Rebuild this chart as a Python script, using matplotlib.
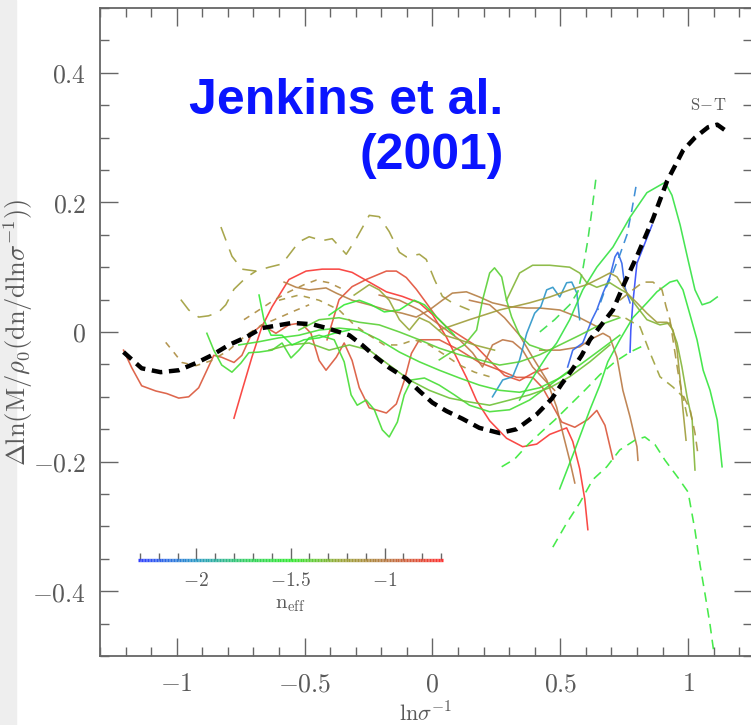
import matplotlib
matplotlib.use("Agg")
import matplotlib.pyplot as plt
import numpy as np
from matplotlib.colors import LinearSegmentedColormap, Normalize
from matplotlib.collections import LineCollection
from matplotlib.patches import Rectangle
from matplotlib.ticker import MultipleLocator, FuncFormatter

plt.rcParams['mathtext.fontset'] = 'cm'

# Sheth-Tormen residual
st_x = [-1.208, -1.137, -1.063, -0.992, -0.925, -0.863, -0.796, -0.729, -0.667, -0.549,
        -0.471, -0.412, -0.325, -0.275, -0.220, -0.169, -0.102, -0.051, 0.0, 0.055,
        0.118, 0.184, 0.263, 0.329, 0.408, 0.467, 0.506, 0.545, 0.584, 0.616,
        0.655, 0.706, 0.753, 0.800, 0.863, 0.918, 0.980, 1.027, 1.078, 1.114, 1.153]
st_y = [-0.031, -0.056, -0.062, -0.059, -0.048, -0.036, -0.020, -0.008, 0.006, 0.014,
        0.012, 0.006, -0.005, -0.020, -0.039, -0.055, -0.072, -0.091, -0.109, -0.122,
        -0.134, -0.148, -0.156, -0.150, -0.127, -0.103, -0.080, -0.059, -0.036, -0.012,
        0.008, 0.034, 0.077, 0.117, 0.175, 0.233, 0.280, 0.300, 0.316, 0.320, 0.309]

# simulation residuals (x, y), one pair per run
salmon_a_x = [-1.208, -1.176, -1.137, -1.082, -1.039, -0.992, -0.953, -0.914, -0.882, -0.855,
              -0.824, -0.776, -0.745, -0.706, -0.667, -0.612, -0.561, -0.514, -0.475, -0.443,
              -0.416, -0.376, -0.345, -0.314, -0.286, -0.247, -0.180, -0.141, -0.110, -0.082,
              -0.051, 0.027, 0.106, 0.184, 0.263, 0.329, 0.392, 0.431, 0.506, 0.557,
              0.608, 0.643, 0.675, 0.706]
salmon_a_y = [-0.028, -0.055, -0.083, -0.091, -0.095, -0.102, -0.100, -0.086, -0.059, -0.036,
              -0.039, -0.047, -0.036, -0.002, 0.011, -0.002, 0.011, 0.014, -0.002, -0.044,
              -0.059, -0.039, -0.017, -0.044, -0.086, -0.117, -0.125, -0.111, -0.075, -0.033,
              -0.012, -0.012, -0.028, -0.047, -0.059, -0.070, -0.070, -0.086, -0.139, -0.147,
              -0.135, -0.121, -0.144, -0.196]
red_x = [-0.776, -0.745, -0.706, -0.667, -0.627, -0.561, -0.494, -0.431, -0.365, -0.314,
         -0.247, -0.180, -0.118, -0.051, 0.0, 0.055, 0.094, 0.133, 0.173, 0.224,
         0.290, 0.353, 0.408, 0.459, 0.525, 0.549, 0.576, 0.596, 0.608]
red_y = [-0.133, -0.091, -0.039, 0.008, 0.039, 0.081, 0.094, 0.097, 0.097, 0.092,
         0.077, 0.062, 0.055, 0.045, 0.027, -0.008, -0.039, -0.070, -0.106, -0.137,
         -0.164, -0.177, -0.173, -0.158, -0.148, -0.169, -0.211, -0.258, -0.305]
salmon_b_x = [-0.412, -0.365, -0.314, -0.259, -0.180, -0.141, -0.102, -0.063, -0.024, 0.016,
              0.055, 0.106, 0.165, 0.224, 0.282, 0.341, 0.400, 0.451]
salmon_b_y = [-0.012, 0.050, 0.070, 0.081, 0.094, 0.094, 0.084, 0.066, 0.045, 0.023,
              0.008, -0.005, -0.020, -0.044, -0.067, -0.075, -0.062, -0.056]
olive_a_x = [-0.827, -0.784, -0.745, -0.690, -0.639, -0.588, -0.553, -0.522, -0.482, -0.431,
             -0.392, -0.337, -0.298, -0.247, -0.208, -0.169, -0.129, -0.102, -0.051, -0.024,
             0.008, 0.039, 0.078, 0.145]
olive_a_y = [0.162, 0.117, 0.097, 0.094, 0.100, 0.105, 0.123, 0.139, 0.147, 0.141,
             0.144, 0.120, 0.144, 0.180, 0.178, 0.155, 0.123, 0.116, 0.120, 0.112,
             0.081, 0.055, 0.045, 0.034]
olive_b_x = [-0.984, -0.953, -0.914, -0.875, -0.835, -0.808, -0.776, -0.729, -0.690]
olive_b_y = [0.050, 0.034, 0.023, 0.025, 0.031, 0.042, 0.066, 0.084, 0.094]
olive_c_x = [-1.043, -1.012, -0.980, -0.925, -0.863, -0.796, -0.729, -0.667, -0.600, -0.549, -0.482]
olive_c_y = [-0.016, -0.031, -0.047, -0.052, -0.044, -0.028, -0.005, 0.011, 0.022, 0.031, 0.042]
green_a_x = [-0.882, -0.855, -0.824, -0.784, -0.749, -0.718, -0.678, -0.627, -0.588, -0.553,
             -0.522, -0.482, -0.443, -0.384, -0.345, -0.318, -0.294, -0.259, -0.227, -0.196,
             -0.169, -0.137, -0.110, -0.082, -0.031, 0.027, 0.086, 0.145, 0.224, 0.302,
             0.380, 0.459, 0.537]
green_a_y = [-0.002, -0.028, -0.051, -0.062, -0.048, -0.032, -0.031, -0.028, -0.017, -0.040,
             -0.028, -0.009, -0.005, -0.012, -0.046, -0.097, -0.113, -0.105, -0.120, -0.151,
             -0.162, -0.139, -0.097, -0.074, -0.071, -0.082, -0.097, -0.113, -0.123, -0.120,
             -0.105, -0.082, -0.059]
brown_a_x = [-0.580, -0.533, -0.482, -0.416, -0.376, -0.314, -0.247, -0.180, -0.118, -0.063,
             -0.012, 0.039, 0.078, 0.133, 0.184, 0.235, 0.302, 0.369, 0.420, 0.498,
             0.576, 0.655]
brown_a_y = [0.077, 0.069, 0.065, 0.068, 0.060, 0.049, 0.042, 0.034, 0.029, 0.023,
             0.034, 0.049, 0.060, 0.062, 0.054, 0.045, 0.039, 0.037, 0.037, 0.034,
             0.022, 0.006]
brown_b_x = [0.145, 0.224, 0.282, 0.341, 0.392, 0.447, 0.486, 0.510, 0.537, 0.557]
brown_b_y = [0.049, 0.042, 0.022, -0.005, -0.039, -0.074, -0.116, -0.156, -0.198, -0.233]
brown_c_x = [0.420, 0.498, 0.576, 0.616, 0.667, 0.694, 0.722, 0.745, 0.773, 0.800, 0.804]
brown_c_y = [-0.028, -0.028, -0.023, -0.012, -0.002, -0.008, -0.039, -0.090, -0.131, -0.177, -0.198]
brown_d_x = [-0.208, -0.129, -0.051, 0.000, 0.055, 0.106, 0.157, 0.196, 0.235, 0.275,
             0.314, 0.353, 0.392, 0.439, 0.478]
brown_d_y = [0.057, 0.049, 0.034, 0.019, 0.003, -0.012, -0.032, -0.054, -0.020, -0.012,
             -0.015, -0.028, -0.054, -0.074, -0.090]
teal_x = [0.235, 0.275, 0.314, 0.341, 0.369, 0.400, 0.424, 0.447, 0.471, 0.498,
          0.525, 0.545, 0.565, 0.576]
teal_y = [-0.100, -0.074, -0.069, -0.043, -0.002, 0.029, 0.039, 0.065, 0.069, 0.054,
          0.076, 0.077, 0.060, 0.019]
blue_a_x = [0.529, 0.549, 0.588, 0.624, 0.643, 0.667, 0.694, 0.714, 0.725, 0.741, 0.753, 0.773]
blue_a_y = [-0.054, -0.028, -0.017, 0.019, 0.034, 0.060, 0.085, 0.116, 0.123, 0.106, 0.069, 0.045]
blue_b_x = [0.773, 0.776, 0.784, 0.800, 0.831, 0.859]
blue_b_y = [-0.031, 0.003, 0.045, 0.106, 0.137, 0.165]
teal_d_x = [0.796, 0.780, 0.761, 0.733, 0.702, 0.675, 0.647]
teal_d_y = [0.224, 0.188, 0.150, 0.119, 0.088, 0.065, 0.034]
lime_d_x = [0.639, 0.624, 0.608, 0.588, 0.569, 0.537, 0.478, 0.420]
lime_d_y = [0.235, 0.188, 0.142, 0.096, 0.062, 0.042, 0.019, 0.000]
lime_a_x = [0.341, 0.400, 0.451, 0.486, 0.537, 0.588, 0.643, 0.706, 0.773, 0.839,
            0.910, 0.937, 0.969, 1.000, 1.027, 1.055, 1.086, 1.114]
lime_a_y = [-0.105, -0.066, -0.035, -0.017, 0.019, 0.065, 0.100, 0.131, 0.177, 0.215,
            0.231, 0.211, 0.165, 0.111, 0.065, 0.042, 0.046, 0.054]
lime_b_x = [0.498, 0.557, 0.616, 0.655, 0.686, 0.733, 0.784, 0.839, 0.878, 0.929,
            0.957, 0.980, 1.008, 1.035, 1.059, 1.086, 1.114, 1.133]
lime_b_y = [-0.242, -0.182, -0.120, -0.082, -0.046, -0.012, 0.022, 0.045, 0.062, 0.077,
            0.080, 0.065, 0.026, -0.012, -0.059, -0.090, -0.136, -0.208]
green_d1_x = [0.471, 0.525, 0.576, 0.627, 0.682, 0.733, 0.792, 0.831, 0.871, 0.910,
              0.961, 1.000, 1.027, 1.047, 1.067, 1.086, 1.102]
green_d1_y = [-0.332, -0.295, -0.264, -0.228, -0.208, -0.182, -0.167, -0.162, -0.174, -0.198,
              -0.225, -0.247, -0.306, -0.360, -0.406, -0.452, -0.498]
green_d2_x = [0.271, 0.322, 0.373, 0.427, 0.478, 0.537, 0.596, 0.655, 0.714, 0.773, 0.831]
green_d2_y = [-0.208, -0.196, -0.174, -0.154, -0.136, -0.113, -0.090, -0.066, -0.046, -0.031, -0.020]
olgreen_a_x = [0.290, 0.341, 0.392, 0.459, 0.537, 0.576, 0.604, 0.643, 0.694, 0.722,
               0.761, 0.800, 0.839, 0.890, 0.929, 0.957, 0.976, 0.996, 1.016, 1.027]
olgreen_a_y = [0.049, 0.091, 0.103, 0.103, 0.100, 0.091, 0.076, 0.069, 0.076, 0.069,
               0.060, 0.039, 0.019, 0.011, 0.014, -0.017, -0.054, -0.100, -0.136, -0.213]
green_b_x = [0.027, 0.086, 0.125, 0.173, 0.196, 0.224, 0.243, 0.271, 0.290, 0.310, 0.341, 0.380, 0.439]
green_b_y = [-0.043, -0.028, -0.020, 0.003, 0.049, 0.091, 0.099, 0.085, 0.049, 0.023, -0.005, -0.020, -0.028]
olive_s_x = [0.027, 0.145, 0.263, 0.380, 0.459, 0.537, 0.604, 0.655, 0.694, 0.722,
             0.761, 0.800, 0.839, 0.878, 0.918, 0.941, 0.957, 0.969, 0.980, 0.992]
olive_s_y = [0.003, 0.019, 0.034, 0.045, 0.054, 0.065, 0.073, 0.083, 0.091, 0.085,
             0.060, 0.045, 0.029, 0.015, 0.015, 0.003, -0.028, -0.074, -0.120, -0.167]
olive_d1_x = [0.733, 0.784, 0.824, 0.863, 0.898, 0.914, 0.929, 0.941, 0.961, 0.976, 1.008, 1.027, 1.039]
olive_d1_y = [0.049, 0.065, 0.077, 0.077, 0.065, 0.039, 0.019, -0.012, -0.063, -0.094, -0.120, -0.156, -0.190]
olive_d2_x = [0.694, 0.753, 0.812, 0.851, 0.890, 0.941, 0.980, 1.000]
olive_d2_y = [0.026, 0.022, 0.008, -0.032, -0.069, -0.085, -0.100, -0.136]
green_c_x = [-0.757, -0.678, -0.600, -0.522, -0.443, -0.365, -0.286, -0.208, -0.129, -0.051,
             0.027, 0.106, 0.184, 0.263, 0.341, 0.420, 0.498, 0.576, 0.655, 0.733]
green_c_y = [-0.020, -0.015, -0.009, -0.005, 0.003, 0.006, 0.003, -0.012, -0.031, -0.046,
             -0.059, -0.071, -0.082, -0.090, -0.093, -0.086, -0.071, -0.051, -0.028, -0.005]
green_e_x = [-0.639, -0.561, -0.482, -0.404, -0.325, -0.247, -0.169, -0.090, -0.012, 0.067,
             0.145, 0.224, 0.302, 0.380, 0.459, 0.537, 0.616, 0.694]
green_e_y = [-0.028, -0.020, -0.017, -0.028, -0.020, -0.028, -0.051, -0.074, -0.090, -0.102,
             -0.108, -0.113, -0.105, -0.097, -0.086, -0.069, -0.046, -0.020]
green_f_x = [-0.522, -0.443, -0.365, -0.286, -0.208, -0.129, -0.051, 0.027, 0.106, 0.184,
             0.263, 0.341, 0.420, 0.498, 0.576, 0.655, 0.733]
green_f_y = [0.003, 0.019, 0.022, 0.015, 0.011, 0.000, -0.012, -0.025, -0.035, -0.043,
             -0.051, -0.046, -0.035, -0.020, -0.005, 0.011, 0.022]
green_g_x = [-0.404, -0.345, -0.286, -0.239, -0.188, -0.129, -0.071, -0.031, 0.027, 0.086]
green_g_y = [0.026, 0.042, 0.049, 0.042, 0.031, 0.034, 0.049, 0.042, 0.019, -0.005]
olgreen_b_x = [-0.306, -0.247, -0.208, -0.169, -0.129, -0.090, -0.051, -0.012, 0.047, 0.106, 0.165, 0.243]
olgreen_b_y = [0.057, 0.073, 0.065, 0.049, 0.019, 0.003, 0.022, 0.015, -0.005, -0.012, -0.020, -0.028]
green_h_x = [-0.678, -0.659, -0.631, -0.588, -0.549, -0.502, -0.443, -0.384, -0.325]
green_h_y = [0.057, 0.019, -0.005, -0.005, -0.020, -0.012, -0.009, -0.002, 0.003]
olive_d3_x = [-0.600, -0.522, -0.443, -0.365, -0.306, -0.247, -0.188, -0.129, -0.071, -0.012,
              0.047, 0.106, 0.165, 0.224]
olive_d3_y = [0.049, 0.057, 0.049, 0.034, 0.011, -0.005, -0.020, -0.020, -0.012, -0.020,
              -0.035, -0.051, -0.062, -0.069]
olive_d4_x = [-0.737, -0.678, -0.620, -0.561, -0.502, -0.455, -0.404, -0.345]
olive_d4_y = [0.019, 0.034, 0.049, 0.062, 0.073, 0.080, 0.076, 0.065]

# effective spectral index of each run and its line style
runs = [
    (salmon_a_x, salmon_a_y, -0.85, 'solid'),
    (red_x, red_y, -0.72, 'solid'),
    (salmon_b_x, salmon_b_y, -0.82, 'solid'),
    (olive_a_x, olive_a_y, -1.2, 'long'),
    (olive_b_x, olive_b_y, -1.2, 'long'),
    (olive_c_x, olive_c_y, -1.1, 'short'),
    (green_a_x, green_a_y, -1.45, 'solid'),
    (brown_a_x, brown_a_y, -1.02, 'solid'),
    (brown_b_x, brown_b_y, -1.0, 'solid'),
    (brown_c_x, brown_c_y, -1.0, 'solid'),
    (brown_d_x, brown_d_y, -0.98, 'solid'),
    (teal_x, teal_y, -2.02, 'solid'),
    (blue_a_x, blue_a_y, -2.2, 'solid'),
    (blue_b_x, blue_b_y, -2.28, 'solid'),
    (teal_d_x, teal_d_y, -2.08, 'dash'),
    (lime_d_x, lime_d_y, -1.6, 'dash'),
    (lime_a_x, lime_a_y, -1.58, 'solid'),
    (lime_b_x, lime_b_y, -1.55, 'solid'),
    (green_d1_x, green_d1_y, -1.52, 'dash'),
    (green_d2_x, green_d2_y, -1.5, 'dash'),
    (olgreen_a_x, olgreen_a_y, -1.3, 'solid'),
    (green_b_x, green_b_y, -1.4, 'solid'),
    (olive_s_x, olive_s_y, -1.2, 'solid'),
    (olive_d1_x, olive_d1_y, -1.15, 'dash'),
    (olive_d2_x, olive_d2_y, -1.22, 'dash'),
    (green_c_x, green_c_y, -1.45, 'solid'),
    (green_e_x, green_e_y, -1.35, 'solid'),
    (green_f_x, green_f_y, -1.4, 'solid'),
    (green_g_x, green_g_y, -1.5, 'solid'),
    (olgreen_b_x, olgreen_b_y, -1.25, 'solid'),
    (green_h_x, green_h_y, -1.5, 'solid'),
    (olive_d3_x, olive_d3_y, -1.15, 'short'),
    (olive_d4_x, olive_d4_y, -1.1, 'short'),
]

neff_range = (-2.31, -0.69)
neff_ticks = [-2, -1.5, -1]

styles = {'solid': '-', 'long': (0, (9, 6)), 'short': (0, (4, 4)), 'dash': (0, (6, 4))}

cmap = LinearSegmentedColormap.from_list('neff', [
    (0.0, '#3040ff'), (0.19, '#2a9cc4'), (0.35, '#33d060'), (0.5, '#33ea33'),
    (0.66, '#9aa538'), (0.81, '#b87a44'), (1.0, '#ff3030')])
norm = Normalize(*neff_range)

grey = '#5a5a5a'
fig = plt.figure(figsize=(7.51, 7.25), dpi=100)
fig.patches.append(Rectangle((0, 0), 16 / 751, 1, transform=fig.transFigure,
                             color='#eeeeee', zorder=-5))
ax = fig.add_axes([100 / 751, 69 / 725, 652 / 751, 648 / 725])

for xs, ys, n, ls in runs:
    ax.plot(xs, ys, color=cmap(norm(n)), lw=1.15, linestyle=styles[ls], alpha=0.9)

ax.plot(st_x, st_y, color='black', lw=3.2, linestyle=(0, (2.4, 1.5)), zorder=5)
ax.text(1.08, 0.35, r'$\mathrm{S\!-\!T}$', color=grey, fontsize=12, ha='center', va='center')

ax.text(-0.953, 0.336, 'Jenkins et al.', color='#0a14ff', fontsize=36,
        fontweight='bold', family='Liberation Sans', va='baseline')
ax.text(-0.286, 0.252, '(2001)', color='#0a14ff', fontsize=36,
        fontweight='bold', family='Liberation Sans', va='baseline')

ax.set_xlim(-1.3, 1.25)
ax.set_ylim(-0.5, 0.5)
ax.xaxis.set_major_locator(MultipleLocator(0.5))
ax.xaxis.set_minor_locator(MultipleLocator(0.1))
ax.yaxis.set_major_locator(MultipleLocator(0.2))
ax.yaxis.set_minor_locator(MultipleLocator(0.05))
fmt = FuncFormatter(lambda v, p: '$0$' if abs(v) < 1e-9 else f'${v:g}$')
ax.xaxis.set_major_formatter(fmt)
ax.yaxis.set_major_formatter(fmt)
ax.tick_params(which='both', direction='in', top=True, right=True, colors='#666666',
               labelcolor=grey, labelsize=18.5, width=1.0)
ax.tick_params(which='major', length=13)
ax.tick_params(which='minor', length=6.5)
ax.tick_params(axis='x', pad=11)
ax.tick_params(axis='y', pad=10)
for s in ax.spines.values():
    s.set_color('#666666')
    s.set_linewidth(1.3)

ax.set_xlabel(r'$\mathrm{ln}\sigma^{-1}$', fontsize=16, color=grey)
ax.set_ylabel(r'$\Delta\mathrm{ln}(\mathrm{M}/\rho_0(\mathrm{dn/dln}\sigma^{-1}))$',
              fontsize=19, color=grey)
ax.xaxis.set_label_coords(0.5, -0.07)
ax.yaxis.set_label_coords(-0.099, 0.5)

# colour key for n_eff
cax = fig.add_axes([138 / 751, (725 - 560) / 725, 305 / 751, 14 / 725])
xs = np.linspace(*neff_range, 200)
segs = np.stack([np.column_stack([xs[:-1], np.zeros(199)]),
                 np.column_stack([xs[1:], np.zeros(199)])], axis=1)
lc = LineCollection(segs, colors=cmap(norm(xs[:-1])), linewidths=2.4, clip_on=False)
cax.add_collection(lc)
cax.set_xlim(*neff_range)
cax.set_ylim(0, 1)
cax.patch.set_visible(False)
for s in cax.spines.values():
    s.set_visible(False)
cax.set_yticks([])
cax.set_xticks(neff_ticks)
cax.xaxis.set_minor_locator(MultipleLocator(0.1))
cax.xaxis.set_major_formatter(fmt)
cax.tick_params(which='both', direction='in', colors='#666666', labelcolor=grey,
                labelsize=14, pad=8, width=1.0)
cax.tick_params(which='major', length=9)
cax.tick_params(which='minor', length=5)
cax.set_xlabel(r'$\mathrm{n_{eff}}$', fontsize=15, color=grey, labelpad=3)

fig.savefig('out.png', dpi=100)
